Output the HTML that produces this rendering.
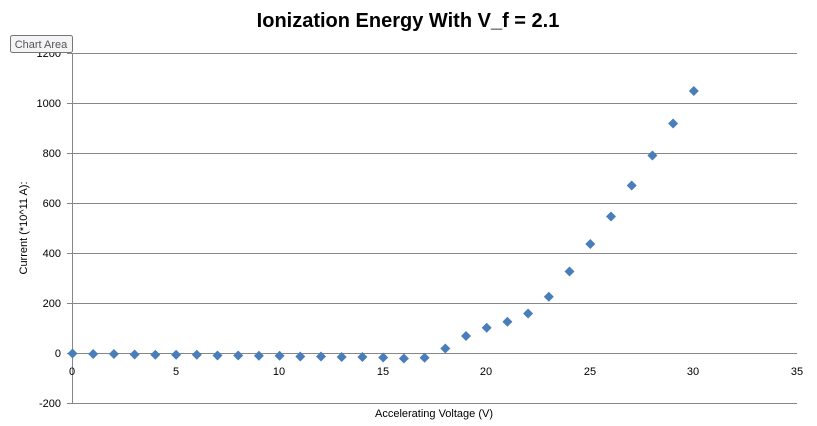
<!DOCTYPE html>
<html><head><style>body{margin:0;background:#fff}svg{display:block}</style></head><body>
<svg width="817" height="426" xmlns="http://www.w3.org/2000/svg" xmlns:xlink="http://www.w3.org/1999/xlink" font-family="Liberation Sans, sans-serif">
<defs><polygon id="d" points="0,-5 5,0 0,5 -5,0" fill="#4a7ebb"/></defs>
<rect width="817" height="426" fill="#fff"/>
<text x="408" y="27" text-anchor="middle" font-size="20" font-weight="bold" fill="#000">Ionization Energy With V_f = 2.1</text>
<g stroke="#878787" stroke-width="1">
<line x1="67" y1="53.5" x2="797" y2="53.5"/>
<line x1="67" y1="103.5" x2="797" y2="103.5"/>
<line x1="67" y1="153.5" x2="797" y2="153.5"/>
<line x1="67" y1="203.5" x2="797" y2="203.5"/>
<line x1="67" y1="253.5" x2="797" y2="253.5"/>
<line x1="67" y1="303.5" x2="797" y2="303.5"/>
<line x1="67" y1="353.5" x2="797" y2="353.5"/>
<line x1="67" y1="403.5" x2="797" y2="403.5"/>
<line x1="72.5" y1="53" x2="72.5" y2="403"/>
</g>
<g font-size="11" fill="#000" text-anchor="end">
<text x="61" y="57">1200</text><text x="61" y="107">1000</text><text x="61" y="157">800</text>
<text x="61" y="207">600</text><text x="61" y="257">400</text><text x="61" y="307">200</text>
<text x="61" y="357">0</text><text x="61" y="407">-200</text>
</g>
<g font-size="11" fill="#000" text-anchor="middle">
<text x="72" y="375">0</text><text x="176" y="375">5</text><text x="279" y="375">10</text>
<text x="383" y="375">15</text><text x="486" y="375">20</text><text x="590" y="375">25</text>
<text x="693" y="375">30</text><text x="797" y="375">35</text>
</g>
<text x="434" y="417" text-anchor="middle" font-size="11" fill="#000">Accelerating  Voltage (V)</text>
<text transform="translate(27,228) rotate(-90)" text-anchor="middle" font-size="11" fill="#000">Current (*10^11 A):</text>
<g>
<use xlink:href="#d" x="72.5" y="353.5"/>
<use xlink:href="#d" x="93.2" y="354"/>
<use xlink:href="#d" x="113.9" y="354"/>
<use xlink:href="#d" x="134.6" y="354.5"/>
<use xlink:href="#d" x="155.3" y="354.8"/>
<use xlink:href="#d" x="176.1" y="354.8"/>
<use xlink:href="#d" x="196.8" y="354.8"/>
<use xlink:href="#d" x="217.5" y="355.5"/>
<use xlink:href="#d" x="238.2" y="355.5"/>
<use xlink:href="#d" x="258.9" y="355.8"/>
<use xlink:href="#d" x="279.6" y="355.8"/>
<use xlink:href="#d" x="300.3" y="356.5"/>
<use xlink:href="#d" x="321" y="356.5"/>
<use xlink:href="#d" x="341.7" y="357"/>
<use xlink:href="#d" x="362.4" y="357"/>
<use xlink:href="#d" x="383.2" y="357.5"/>
<use xlink:href="#d" x="403.9" y="358.5"/>
<use xlink:href="#d" x="424.6" y="357.8"/>
<use xlink:href="#d" x="445.3" y="348.5"/>
<use xlink:href="#d" x="466" y="336"/>
<use xlink:href="#d" x="486.7" y="327.8"/>
<use xlink:href="#d" x="507.4" y="321.8"/>
<use xlink:href="#d" x="528.1" y="313.5"/>
<use xlink:href="#d" x="548.8" y="296.8"/>
<use xlink:href="#d" x="569.5" y="271.5"/>
<use xlink:href="#d" x="590.3" y="244"/>
<use xlink:href="#d" x="611" y="216.5"/>
<use xlink:href="#d" x="631.7" y="185.5"/>
<use xlink:href="#d" x="652.4" y="155.5"/>
<use xlink:href="#d" x="673.1" y="123.5"/>
<use xlink:href="#d" x="693.8" y="91"/>
</g>
<rect x="10.5" y="35.5" width="62" height="17" rx="2" fill="#f4f4f6" stroke="#767676"/>
<text x="41" y="48" text-anchor="middle" font-size="11" fill="#555">Chart Area</text>
</svg>
</body></html>
